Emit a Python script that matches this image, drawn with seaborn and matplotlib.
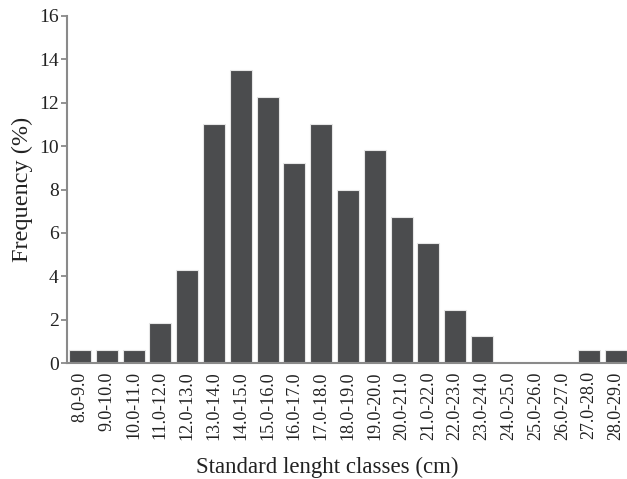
import matplotlib
matplotlib.use("Agg")
import matplotlib.pyplot as plt
import seaborn as sns
import pandas as pd

classes = ["8.0-9.0", "9.0-10.0", "10.0-11.0", "11.0-12.0", "12.0-13.0", "13.0-14.0",
           "14.0-15.0", "15.0-16.0", "16.0-17.0", "17.0-18.0", "18.0-19.0", "19.0-20.0",
           "20.0-21.0", "21.0-22.0", "22.0-23.0", "23.0-24.0", "24.0-25.0", "25.0-26.0",
           "26.0-27.0", "27.0-28.0", "28.0-29.0"]
frequency = [0.61, 0.61, 0.61, 1.84, 4.29, 11.04, 13.50, 12.27, 9.20, 11.04, 7.98, 9.82,
             6.75, 5.52, 2.45, 1.23, 0.0, 0.0, 0.0, 0.61, 0.61]
yticks = [0, 2, 4, 6, 8, 10, 12, 14, 16]

sns.set_theme(style="ticks")
plt.rcParams['font.family'] = ['Liberation Serif', 'DejaVu Serif']
plt.rcParams['text.color'] = '#222222'
plt.rcParams['xtick.color'] = '#222222'
plt.rcParams['ytick.color'] = '#222222'
plt.rcParams['axes.labelcolor'] = '#222222'

df = pd.DataFrame({"cls": classes, "freq": frequency})

fig = plt.figure(figsize=(6.27, 4.79), dpi=100)
ax = fig.add_axes([67/627, 1 - 363/479, 1 - 67/627, (363 - 16)/479])

sns.barplot(data=df, x="cls", y="freq", color="#4b4c4e", saturation=1,
            width=0.82, edgecolor="#e6e6e6", linewidth=0.8, ax=ax)

ax.set_xlim(-0.485, 20.41)
ax.set_ylim(0, 16)
ax.set_yticks(yticks)
ax.set_yticklabels([str(t) for t in yticks], fontsize=14)
ax.tick_params(axis='x', length=0, labelsize=13, rotation=90, pad=6)
ax.tick_params(axis='y', length=4, width=1.2, color="#808080", pad=2)
for s in ["top", "right"]:
    ax.spines[s].set_visible(False)
for s in ["left", "bottom"]:
    ax.spines[s].set_color("#8a8a8a")
    ax.spines[s].set_linewidth(1.5)

ax.set_xlabel("Standard lenght classes (cm)", fontsize=16.5, labelpad=12)
ax.xaxis.set_label_coords(0.464, -0.27)
ax.set_ylabel("Frequency (%)", fontsize=17.5, labelpad=4)

fig.savefig("out.png", dpi=100)
